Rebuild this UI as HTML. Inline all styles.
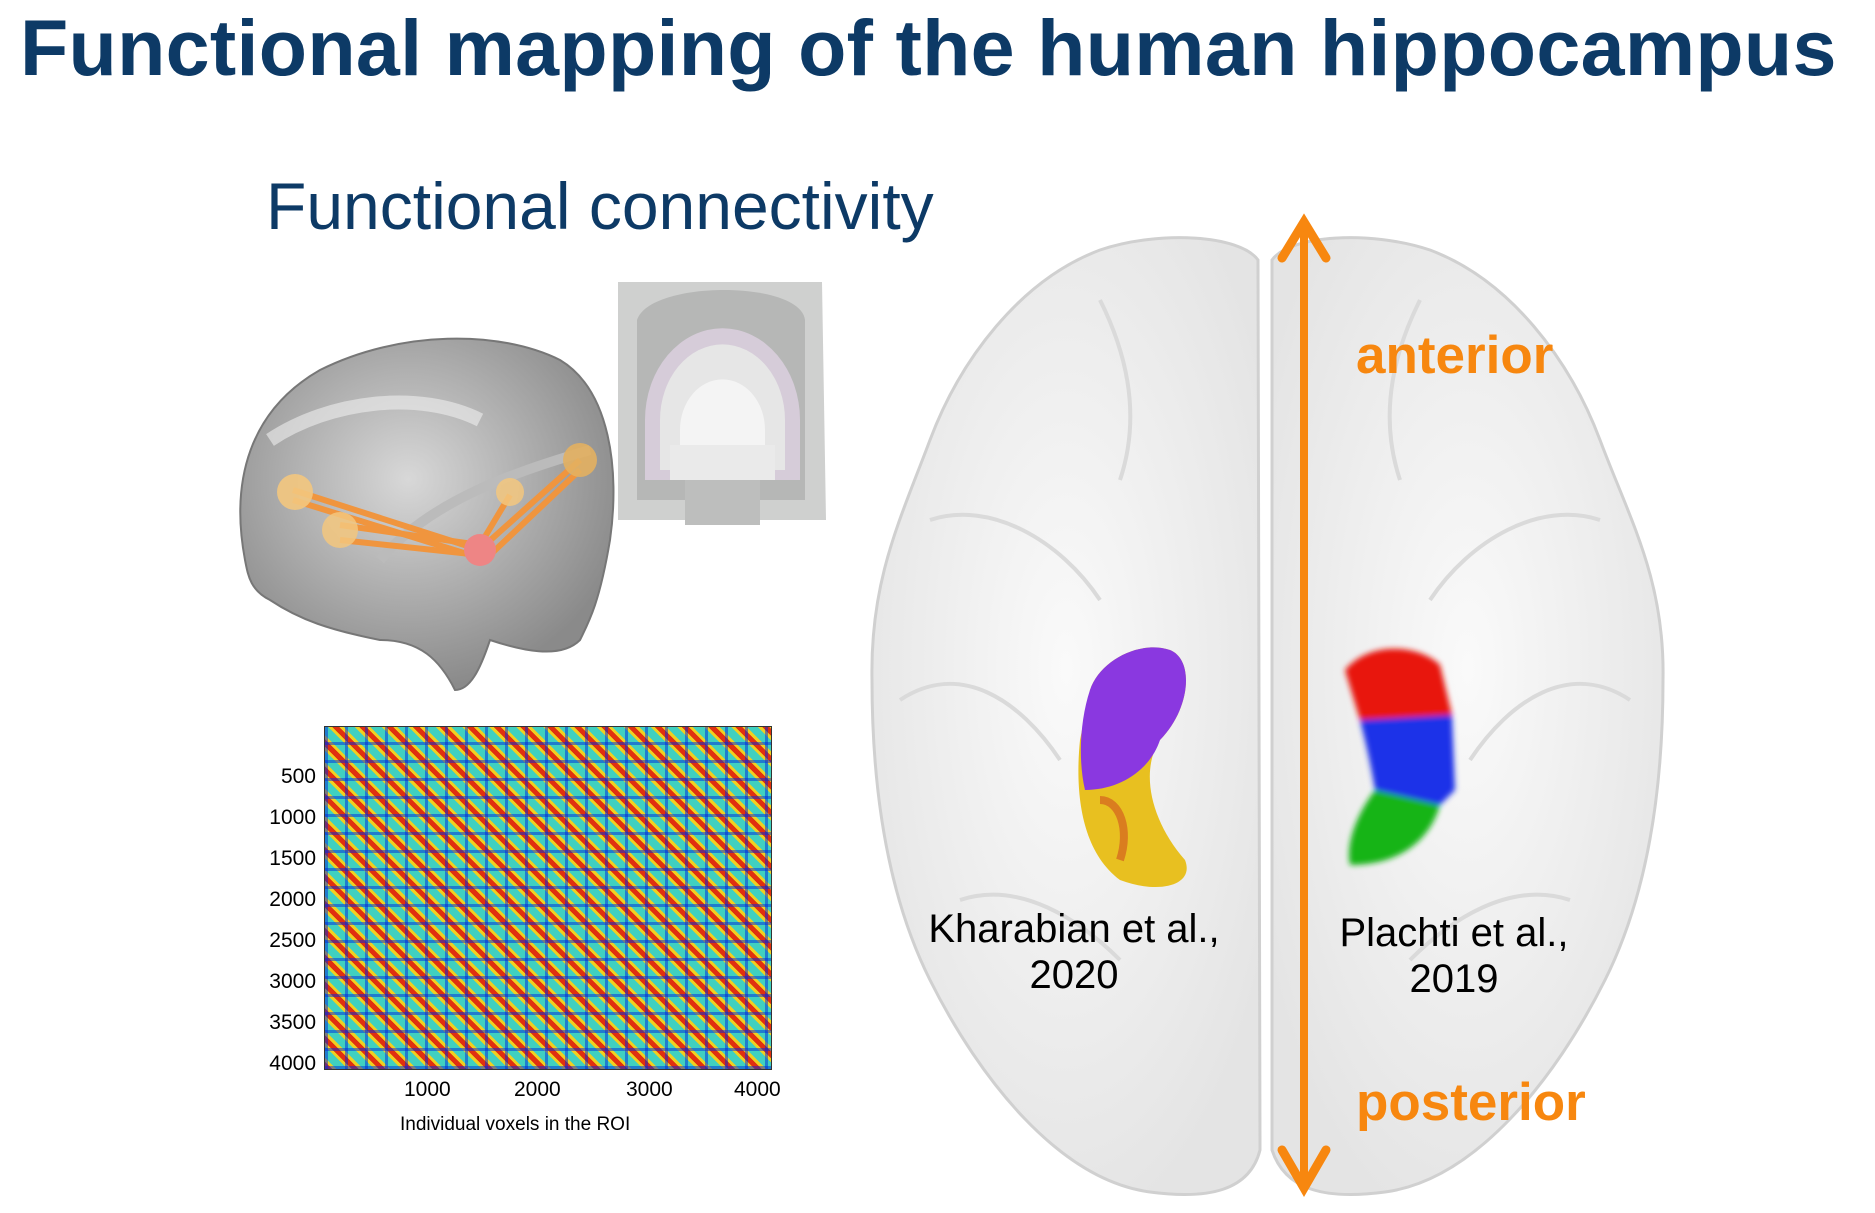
<!DOCTYPE html>
<html><head><meta charset="utf-8"><style>
body{margin:0;width:1875px;height:1213px;background:#fff;position:relative;overflow:hidden;font-family:"Liberation Sans",sans-serif}
.a{position:absolute;white-space:nowrap}
</style></head><body>
<div class="a" style="left:20px;top:2px;font-size:79px;font-weight:bold;color:#0d3a66;letter-spacing:0.3px">Functional mapping of the human hippocampus</div>
<div class="a" style="left:266px;top:168px;font-size:66px;color:#0d3a66">Functional connectivity</div>

<svg class="a" style="left:0;top:0" width="1875" height="1213">
<defs>
<radialGradient id="lb" cx="45%" cy="40%" r="60%"><stop offset="0" stop-color="#d8d8d8"/><stop offset="1" stop-color="#8a8a8a"/></radialGradient>
<radialGradient id="wb" cx="50%" cy="45%" r="60%"><stop offset="0" stop-color="#fafafa"/><stop offset="1" stop-color="#e4e4e4"/></radialGradient>
<filter id="bl"><feGaussianBlur stdDeviation="3"/></filter>
</defs>
<path d="M245,560 C230,480 250,410 320,370 C400,330 500,330 560,360 C610,390 620,470 610,540 C600,600 590,620 580,640 C560,660 520,650 490,640 C480,670 470,690 455,690 C440,660 420,640 380,640 C330,630 300,620 270,600 C250,590 248,575 245,560Z" fill="url(#lb)" stroke="#777" stroke-width="2"/>
<path d="M270,440 C330,400 420,390 480,420" stroke="#eee" stroke-width="14" fill="none" opacity=".6"/>
<path d="M380,560 C430,500 520,470 590,450" stroke="#bbb" stroke-width="10" fill="none"/>
<g stroke="#f0953e" stroke-width="6">
<line x1="293" y1="490" x2="480" y2="550"/><line x1="293" y1="500" x2="480" y2="558"/>
<line x1="340" y1="525" x2="480" y2="545"/><line x1="340" y1="540" x2="480" y2="555"/>
<line x1="580" y1="460" x2="485" y2="545"/><line x1="580" y1="470" x2="490" y2="555"/>
<line x1="510" y1="495" x2="480" y2="545"/>
</g>
<circle cx="295" cy="492" r="18" fill="#f3c77e" opacity=".9"/>
<circle cx="340" cy="530" r="18" fill="#f3c77e" opacity=".85"/>
<circle cx="510" cy="492" r="14" fill="#f3c77e" opacity=".85"/>
<circle cx="580" cy="460" r="17" fill="#e3b060" opacity=".9"/>
<circle cx="480" cy="550" r="16" fill="#ee8585"/>
<path d="M618,282 L822,282 L826,520 L618,520Z" fill="#cfd0cf"/>
<path d="M637,320 C650,280 800,280 805,320 L805,500 L637,500Z" fill="#b6b7b6"/>
<path d="M645,420 A76,90 0 1 1 800,420 L800,480 L645,480Z" fill="#d6ccd9"/>
<path d="M660,420 A62,75 0 1 1 785,420 L785,470 L660,470Z" fill="#e6e6e6"/>
<path d="M680,430 A42,50 0 1 1 765,430 L765,460 L680,460Z" fill="#f4f4f4"/>
<rect x="670" y="445" width="105" height="35" fill="#eaeaea"/>
<rect x="685" y="480" width="75" height="45" fill="#bdbebd"/>
<path d="M1258,260 C1240,235 1160,230 1100,250 C1020,280 960,360 930,440 C900,520 870,580 872,680 C872,800 890,900 930,980 C980,1080 1060,1180 1150,1192 C1210,1200 1250,1190 1260,1150Z" fill="url(#wb)" stroke="#d0d0d0" stroke-width="3"/>
<path d="M1272,260 C1290,235 1370,230 1430,250 C1510,280 1570,360 1600,440 C1630,520 1665,580 1663,680 C1663,800 1645,900 1605,980 C1555,1080 1475,1180 1385,1192 C1325,1200 1285,1190 1272,1150Z" fill="url(#wb)" stroke="#d0d0d0" stroke-width="3"/>
<g stroke="#dadada" stroke-width="4" fill="none">
<path d="M930,520 C990,500 1060,540 1100,600"/><path d="M900,700 C960,660 1020,700 1060,760"/>
<path d="M1100,300 C1130,360 1140,420 1120,480"/><path d="M960,900 C1020,880 1080,920 1120,960"/>
<path d="M1600,520 C1540,500 1470,540 1430,600"/><path d="M1630,700 C1570,660 1510,700 1470,760"/>
<path d="M1420,300 C1390,360 1380,420 1400,480"/><path d="M1570,900 C1510,880 1450,920 1410,960"/>
</g>
<path d="M1090,690 C1100,660 1140,640 1170,650 C1195,660 1190,710 1160,740 C1140,770 1150,820 1185,860 C1195,885 1160,895 1120,880 C1080,850 1075,790 1080,740Z" fill="#e8c020"/>
<path d="M1090,690 C1100,660 1140,640 1170,650 C1195,660 1190,710 1160,740 C1150,770 1120,790 1085,790 C1078,760 1080,720 1090,690Z" fill="#8a38e0"/>
<path d="M1100,800 C1120,800 1130,830 1120,860" stroke="#d05020" stroke-width="8" fill="none" opacity=".6"/>
<g filter="url(#bl)">
<path d="M1345,670 C1370,640 1420,645 1440,665 L1452,715 L1400,730 L1360,720Z" fill="#e8180c"/>
<path d="M1360,720 L1452,715 L1455,790 L1440,805 L1375,790 C1370,760 1365,740 1360,720Z" fill="#1a30e8"/>
<path d="M1375,790 L1440,805 C1430,840 1400,865 1350,865 C1345,840 1360,810 1375,790Z" fill="#12b412"/>
</g>
<line x1="1304" y1="228" x2="1304" y2="1182" stroke="#f7870f" stroke-width="8"/>
<polyline points="1282,258 1304,222 1326,258" fill="none" stroke="#f7870f" stroke-width="9" stroke-linecap="round"/>
<polyline points="1282,1150 1304,1188 1326,1150" fill="none" stroke="#f7870f" stroke-width="9" stroke-linecap="round"/>
</svg>

<div class="a" style="left:1356px;top:325px;font-size:53px;font-weight:bold;color:#f7870f">anterior</div>
<div class="a" style="left:1356px;top:1072px;font-size:53px;font-weight:bold;color:#f7870f">posterior</div>
<div class="a" style="left:924px;top:906px;font-size:40px;color:#000;text-align:center;width:300px;line-height:46px">Kharabian et al.,<br>2020</div>
<div class="a" style="left:1304px;top:910px;font-size:40px;color:#000;text-align:center;width:300px;line-height:46px">Plachti et al.,<br>2019</div>

<div class="a" style="left:324px;top:726px;width:446px;height:342px;border:1px solid #333;
background:
repeating-linear-gradient(90deg,rgba(0,40,220,.5) 0 3px,transparent 3px 20px),
repeating-linear-gradient(0deg,rgba(0,40,220,.5) 0 3px,transparent 3px 18px),
repeating-linear-gradient(45deg,#e03010 0 5px,#f0d020 5px 8px,#40d0c0 8px 16px,#f0d020 16px 19px),
#40c8d0"></div>
<div class="a" style="font-size:21px;color:#000;left:250px;top:756px;width:66px;text-align:right;line-height:41px">500<br>1000<br>1500<br>2000<br>2500<br>3000<br>3500<br>4000</div>
<div class="a" style="font-size:21px;left:404px;top:1078px">1000</div>
<div class="a" style="font-size:21px;left:514px;top:1078px">2000</div>
<div class="a" style="font-size:21px;left:626px;top:1078px">3000</div>
<div class="a" style="font-size:21px;left:734px;top:1078px">4000</div>
<div class="a" style="font-size:19px;left:400px;top:1114px">Individual voxels in the ROI</div>
</body></html>
